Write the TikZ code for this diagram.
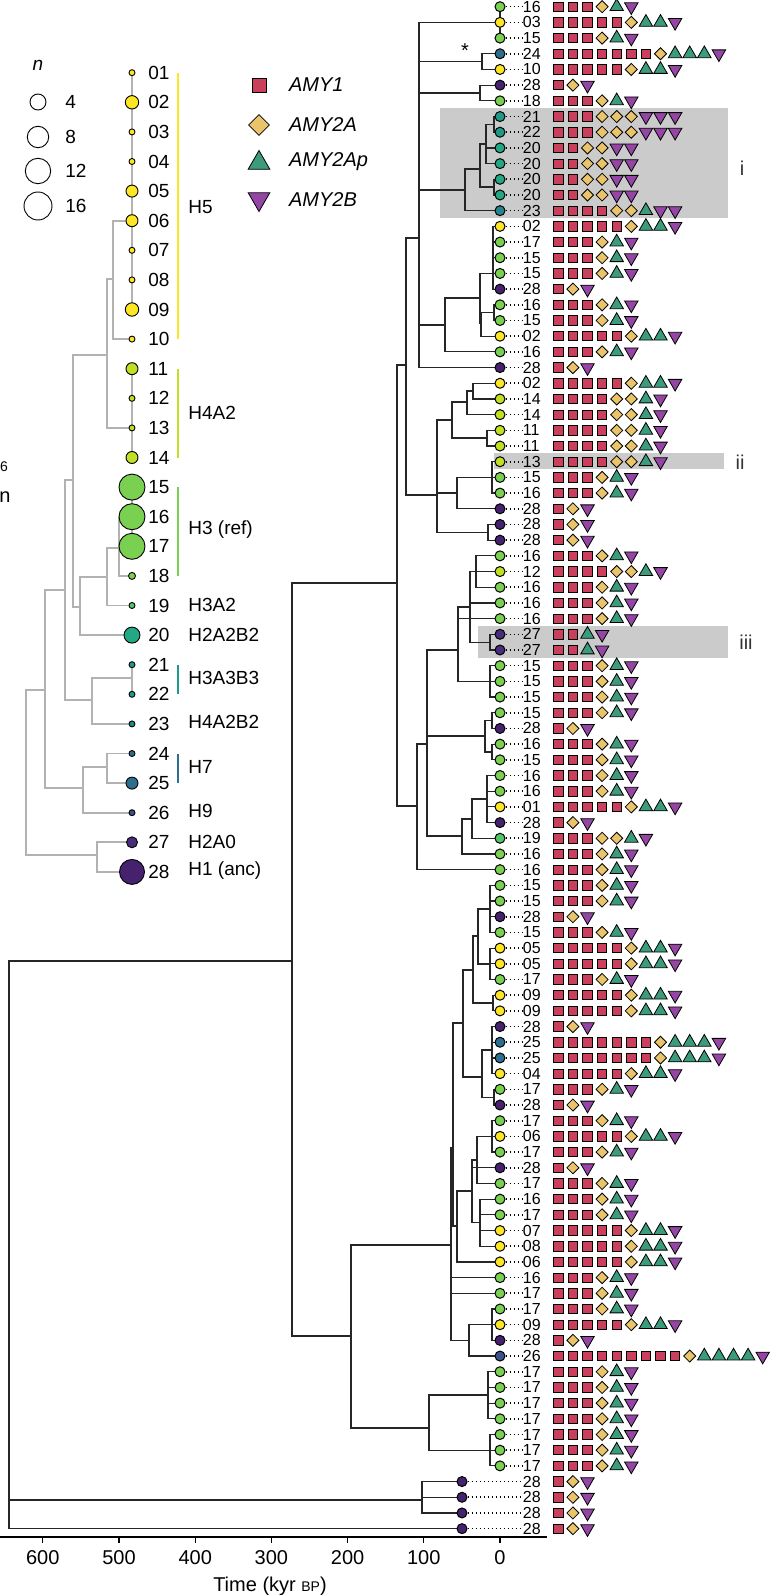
\documentclass[tikz,border=0pt]{standalone}
\usepackage{fontspec}
\setmainfont{Liberation Sans}
\usetikzlibrary{shapes.geometric}
\pgfdeclarelayer{bg}
\pgfsetlayers{bg,main}

\definecolor{hFive}{HTML}{FDE725}
\definecolor{hFourA}{HTML}{C2DF23}
\definecolor{hThree}{HTML}{7AD151}
\definecolor{hThreeA}{HTML}{52C569}
\definecolor{hTwoAB}{HTML}{22A884}
\definecolor{hThreeAB}{HTML}{1F9A8A}
\definecolor{hFourAB}{HTML}{25858E}
\definecolor{hSeven}{HTML}{2D6E8E}
\definecolor{hNine}{HTML}{3B528B}
\definecolor{hTwoA}{HTML}{472D7B}
\definecolor{hOne}{HTML}{45216E}
\definecolor{cAMYI}{HTML}{C93F5C}
\definecolor{cAMYA}{HTML}{EAC46A}
\definecolor{cAMYAp}{HTML}{3C9B7C}
\definecolor{cAMYB}{HTML}{9546A4}
\definecolor{hilite}{HTML}{CBCBCB}

% haplotype -> colour and copy numbers (AMY1, AMY2A, AMY2Ap, AMY2B)
\newcommand\sethap[1]{%
  \ifnum#1<11 \def\hc{hFive}\def\nA{5}\def\nB{1}\def\nC{2}\def\nD{1}%
  \else\ifnum#1<15 \def\hc{hFourA}\def\nA{4}\def\nB{2}\def\nC{1}\def\nD{1}%
  \else\ifnum#1<19 \def\hc{hThree}\def\nA{3}\def\nB{1}\def\nC{1}\def\nD{1}%
  \else\ifnum#1=19 \def\hc{hThreeA}\def\nA{3}\def\nB{2}\def\nC{1}\def\nD{1}%
  \else\ifnum#1=20 \def\hc{hTwoAB}\def\nA{2}\def\nB{2}\def\nC{0}\def\nD{2}%
  \else\ifnum#1<23 \def\hc{hThreeAB}\def\nA{3}\def\nB{3}\def\nC{0}\def\nD{3}%
  \else\ifnum#1=23 \def\hc{hFourAB}\def\nA{4}\def\nB{2}\def\nC{1}\def\nD{2}%
  \else\ifnum#1<26 \def\hc{hSeven}\def\nA{7}\def\nB{1}\def\nC{3}\def\nD{1}%
  \else\ifnum#1=26 \def\hc{hNine}\def\nA{9}\def\nB{1}\def\nC{4}\def\nD{1}%
  \else\ifnum#1=27 \def\hc{hTwoA}\def\nA{2}\def\nB{0}\def\nC{1}\def\nD{1}%
  \else \def\hc{hOne}\def\nA{1}\def\nB{1}\def\nC{0}\def\nD{1}%
  \fi\fi\fi\fi\fi\fi\fi\fi\fi\fi}

\begin{document}
\begin{tikzpicture}[x=0.5pt,y=-0.5pt,
    branch/.style={draw=black!85,line width=0.6pt},
    ibranch/.style={draw=black!30,line width=0.85pt},
    tipdot/.style={circle,draw=black,line width=0.5pt,inner sep=0,minimum size=5pt},
    itip/.style={circle,draw=black,line width=0.45pt,inner sep=0},
    tiplab/.style={anchor=west,inner sep=0,font=\fontsize{8}{9}\selectfont},
    ilab/.style={anchor=west,inner sep=0,font=\fontsize{9.5}{11}\selectfont},
    leader/.style={line width=0.8pt,dash pattern=on 0.8pt off 1.2pt},
    amyI/.style={rectangle,draw=black,line width=0.4pt,fill=cAMYI,inner sep=0,minimum size=4.7pt},
    amyA/.style={diamond,draw=black,line width=0.4pt,fill=cAMYA,inner sep=0,minimum size=6.2pt},
    amyAp/.style={regular polygon,regular polygon sides=3,draw=black,line width=0.4pt,fill=cAMYAp,inner sep=0,minimum size=7.8pt},
    amyB/.style={regular polygon,regular polygon sides=3,shape border rotate=180,draw=black,line width=0.4pt,fill=cAMYB,inner sep=0,minimum size=7.8pt}]
        \useasboundingbox (0,0) rectangle (770,1595);

        % shaded groups i, ii, iii
        \begin{pgfonlayer}{bg}
          \fill[hilite] (440,108) rectangle (728,218);
          \fill[hilite] (494,453) rectangle (724,469);
          \fill[hilite] (478,626) rectangle (728,658);
        \end{pgfonlayer}
        \node[font=\fontsize{10}{12}\selectfont,text=black!80] (gi) at (742,168) {i};
        \node[font=\fontsize{10}{12}\selectfont,text=black!80] (gii) at (740,462) {ii};
        \node[font=\fontsize{10}{12}\selectfont,text=black!80] (giii) at (746,642) {iii};
        \node[font=\fontsize{10}{12}\selectfont] (star) at (465,51) {*};

        % tips of the big tree, one row each
        \foreach \h [count=\k] in {16,03,15,24,10,28,18,21,22,20,
                                   20,20,20,23,02,17,15,15,28,16,
                                   15,02,16,28,02,14,14,11,11,13,
                                   15,16,28,28,28,16,12,16,16,16,
                                   27,27,15,15,15,15,28,16,15,16,
                                   16,01,28,19,16,16,15,15,28,15,
                                   05,05,17,09,09,28,25,25,04,17,
                                   28,17,06,17,28,17,16,17,07,08,
                                   06,16,17,17,09,28,26,17,17,17,
                                   17,17,17,17,28,28,28,28}{
          \pgfmathsetmacro\ty{6.7+(\k-1)*15.69}
          \sethap{\h}
          \ifnum\k>94 \def\tx{462}\else\def\tx{500}\fi
          \node[tipdot,fill=\hc] (t\k) at (\tx,\ty) {};
          \node[tiplab] (l\k) at (522.5,\ty) {\h};
          \draw[leader] (t\k.east) -- (l\k.west);
          \pgfmathtruncatemacro\nAB{\nA+\nB}
          \pgfmathtruncatemacro\nABC{\nAB+\nC}
          \pgfmathtruncatemacro\ntot{\nABC+\nD}
          % Places the gene copies
          \foreach \j in {1,...,\ntot}{
            \pgfmathsetmacro\mx{558.3+14.6*(\j-1)}
            \ifnum\j>\nABC\relax \node[amyB] (m\k-\j) at (\mx,\ty) {};
            \else\ifnum\j>\nAB\relax \node[amyAp] (m\k-\j) at (\mx,\ty) {};
            \else\ifnum\j>\nA\relax \node[amyA] (m\k-\j) at (\mx,\ty) {};
            \else \node[amyI] (m\k-\j) at (\mx,\ty) {};
            \fi\fi\fi
          }
        }

        % inner nodes of the big tree
        \foreach \n/\x/\y in {cA/494/124.3, cB/486/144, cD/494/187, cC/480/169, cE/465/190,
                              c45/482/61.7, c67/480/93, cP/493/273.4, cR/494/312.6, cQ/481/323,
                              cH/480/298, cF/445/325, cN1/419/238, cW/473/391, cV/467/402,
                              cX/487/438, cU/452/420, cT/492/477.5, cS/457/493, cK/488/532.4,
                              cG/437/495, cN0/406/365, cA1/476/571.6, cK27/490/642.2, cA2/470/607,
                              cA15/490/681.5, cA3/458/650, cB1/492/720.8, cB3/492/752, cB2/485/736,
                              cC1/487/799, cC2/472/819, cC3/462/836, cA4/427/744, cQ0/417/806,
                              cP1/397/583, cD1/490/909, cD2/490/964, cD3/478/936, cD5/493/1003,
                              cD4/473/970, cH1/492/1050, cH2/494/1097.5, cM1/482/1077, cM2/463/1023,
                              cE1/492/1136.4, cE2/477/1160, cE4/480/1222.7, cE3/472/1191, cM3/457/1226,
                              cR4/453/1148, cF1/492/1324.8, cF2/469/1340.5, cR5/451/1245, cG1/488/1395,
                              cG2/490/1450.4, cR7/429/1428, cP3/351/1336, cP2/292/961, cAnc/422/1500,
                              cRoot/9/1245}
          \coordinate (\n) at (\x,\y);

        \begin{pgfonlayer}{bg}
          \draw[branch] (t1) -- (t2);
          \draw[branch] (t2) -- (t3);
          \foreach \p/\c in {cA/t8, cA/t9, cB/cA, cB/t10, cB/t11, cD/t12, cD/t13, cC/cB, cC/cD,
                             cE/cC, cE/t14, c45/t4, c45/t5, c67/t6, c67/t7,
                             cP/t15, cP/t16, cP/t17, cP/t18, cP/t19, cR/t20, cR/t21, cQ/cR, cQ/t22,
                             cH/cP, cH/cQ, cF/cH, cF/t23,
                             cN1/t2, cN1/c45, cN1/c67, cN1/cE, cN1/cF, cN1/t24,
                             cW/t25, cW/t26, cV/cW, cV/t27, cX/t28, cX/t29, cU/cV, cU/cX,
                             cT/t30, cT/t31, cT/t32, cS/cT, cS/t33, cK/t34, cK/t35,
                             cG/cU, cG/cS, cG/cK, cN0/cN1, cN0/cG,
                             cA1/t36, cA1/t37, cA1/t38, cK27/t41, cK27/t42, cA2/cA1, cA2/t39, cA2/cK27,
                             cA15/t43, cA15/t44, cA15/t45, cA3/cA2, cA3/t40, cA3/cA15,
                             cB1/t46, cB1/t47, cB3/t48, cB3/t49, cB2/cB1, cB2/cB3,
                             cC1/t50, cC1/t51, cC1/t52, cC1/t53, cC2/cC1, cC2/t54, cC3/cC2, cC3/t55,
                             cA4/cA3, cA4/cB2, cA4/cC3, cQ0/cA4, cQ0/t56, cP1/cN0, cP1/cQ0,
                             cD1/t57, cD1/t58, cD1/t59, cD1/t60, cD2/t61, cD2/t62, cD2/t63,
                             cD3/cD1, cD3/cD2, cD5/t64, cD5/t65, cD4/cD3, cD4/cD5,
                             cH1/t66, cH1/t67, cH1/t68, cH1/t69, cH2/t70, cH2/t71,
                             cM1/cH1, cM1/cH2, cM2/cD4, cM2/cM1,
                             cE1/t72, cE1/t73, cE1/t74, cE2/cE1, cE2/t76,
                             cE4/t77, cE4/t78, cE4/t79, cE4/t80, cE3/cE2, cE3/t75, cE3/cE4,
                             cM3/cE3, cM3/t81, cR4/cM2, cR4/cM3,
                             cF1/t84, cF1/t85, cF1/t86, cF2/cF1, cF2/t87,
                             cR5/cR4, cR5/t82, cR5/t83, cR5/cF2,
                             cG1/t88, cG1/t89, cG1/t90, cG1/t91, cG2/t92, cG2/t93, cG2/t94,
                             cR7/cG1, cR7/cG2, cP3/cR5, cP3/cR7, cP2/cP1, cP2/cP3,
                             cAnc/t95, cAnc/t96, cAnc/t97, cRoot/cP2, cRoot/cAnc, cRoot/t98}
            \draw[branch] (\p) |- (\c);
        \end{pgfonlayer}

        % time axis
        \coordinate (XAxisMin) at (0,1537);
        \coordinate (XAxisMax) at (547,1537);
        \draw[line width=1pt] (XAxisMin) -- (XAxisMax);
        \foreach \t in {0,100,...,600}{
          \draw[line width=0.6pt] ({500-0.762*\t},1537) -- ++(0,6);
          \node[anchor=base,font=\fontsize{10}{12}\selectfont] (tk\t) at ({500-0.762*\t},1564) {\t};
        }
        \node[anchor=base,font=\fontsize{10}{12}\selectfont] (xtitle) at (270,1591)
          {Time (kyr {\fontsize{7}{8}\selectfont BP})};

        % copy legend
        \node[amyI,minimum size=7pt] (kI) at (259,85) {};
        \node[amyA,minimum size=10.5pt] (kA) at (259,125) {};
        \node[amyAp,minimum size=12.5pt] (kAp) at (259,163) {};
        \node[amyB,minimum size=12.5pt] (kB) at (259,199) {};
        \node[anchor=west,font=\fontsize{10}{12}\selectfont\itshape] at (282,85) {AMY1};
        \node[anchor=west,font=\fontsize{10}{12}\selectfont\itshape] at (282,125) {AMY2A};
        \node[anchor=west,font=\fontsize{10}{12}\selectfont\itshape] at (282,162) {AMY2Ap};
        \node[anchor=west,font=\fontsize{10}{12}\selectfont\itshape] at (282,200) {AMY2B};

        % size legend
        \node[font=\fontsize{9.5}{11}\selectfont\itshape] (nkey) at (38,65) {n};
        \foreach \s/\r/\y in {4/8/102, 8/10.7/137, 12/12.7/171, 16/14/206}{
          \node[itip,fill=white,minimum size=\r pt] (k\s) at (38,\y) {};
          \node[ilab] at (65,\y) {\s};
        }

        % haplotype tree
        \foreach \r/\c [count=\k] in {3/hFive, 6.7/hFive, 3/hFive, 3/hFive, 6/hFive, 6/hFive, 3/hFive,
                                      3/hFive, 6.7/hFive, 3/hFive, 6/hFourA, 3/hFourA, 3/hFourA, 6/hFourA,
                                      13/hThree, 13/hThree, 13/hThree, 3.5/hThree, 3/hThreeA, 8/hTwoAB,
                                      3/hThreeAB, 3/hThreeAB, 3/hFourAB, 3/hSeven, 6/hSeven, 3/hNine,
                                      5.5/hTwoA, 12.5/hOne}{
          \node[itip,minimum size=\r pt,fill=\c] (i\k) at (132,{72.7+(\k-1)*29.6}) {};
          \node[ilab] (il\k) at (148,{72.7+(\k-1)*29.6}) {\ifnum\k<10 0\fi\k};
        }
        \foreach \n/\x/\y in {iT/113/279, iB/107/355, iF/119/548, iE/107/577, iD/80/607, iC/73/480,
                              iH/92/700, iP/132/678, iG/65/590, iK/107/767, iJ/83/788, iI/45/690,
                              iL/97/855, iR/26/770}
          \coordinate (\n) at (\x,\y);
        \begin{pgfonlayer}{bg}
          \draw[ibranch] (i1.center) -- (i9.center);
          \draw[ibranch] (i11.center) -- (i14.center);
          \draw[ibranch] (i15.center) -- (i17.center);
          \draw[ibranch] (i21.center) -- (i22.center);
          \foreach \p/\c in {iT/i6, iT/i10, iB/iT, iB/i13, iF/i16, iF/i18, iE/iF, iE/i19, iD/iE, iD/i20,
                             iC/iB, iC/iD, iH/iP, iH/i23, iG/iC, iG/iH, iK/i24, iK/i25, iJ/iK, iJ/i26,
                             iI/iG, iI/iJ, iL/i27, iL/i28, iR/iI, iR/iL}
            \draw[ibranch] (\p) |- (\c);
        \end{pgfonlayer}

        % group bars and names
        \foreach \a/\b/\c in {1/10/hFive, 11/14/hFourA, 15/18/hThree, 21/22/hThreeAB, 24/25/hSeven}
          \draw[\c,line width=1pt] (178,{72.7+(\a-1)*29.6}) -- (178,{72.7+(\b-1)*29.6});
        \node[ilab] at (188,207) {H5};
        \node[ilab] at (188,413) {H4A2};
        \node[ilab] at (188,530) {H3 (ref)};
        \node[ilab] at (188,605) {H3A2};
        \node[ilab] at (188,635) {H2A2B2};
        \node[ilab] at (188,678) {H3A3B3};
        \node[ilab] at (188,722) {H4A2B2};
        \node[ilab] at (188,767) {H7};
        \node[ilab] at (188,811) {H9};
        \node[ilab] at (188,842) {H2A0};
        \node[ilab] at (188,871) {H1 (anc)};

        % text at the left edge
        \node[font=\fontsize{7}{8}\selectfont] (frag6) at (4,467) {6};
        \node[font=\fontsize{10}{12}\selectfont] (fragn) at (5,497) {n};
\end{tikzpicture}
\end{document}
